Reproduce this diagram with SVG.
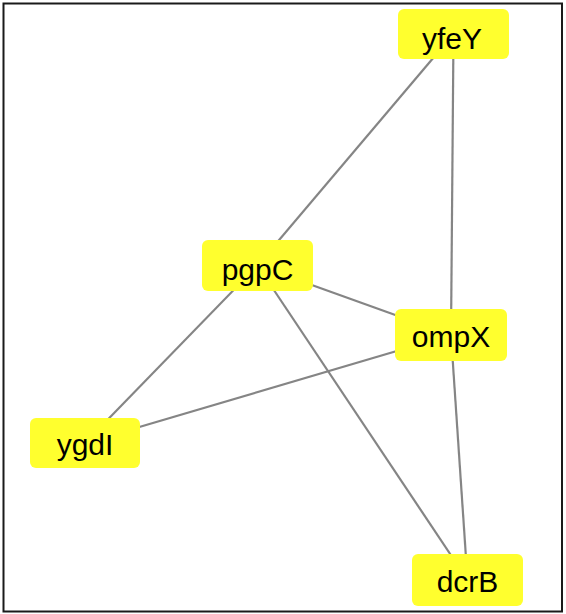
<svg xmlns="http://www.w3.org/2000/svg" width="566" height="614" viewBox="0 0 566 614">
  <style>
    .frame { fill: #ffffff; stroke: #1a1a1a; stroke-width: 2; }
    .edge { stroke: #858585; stroke-width: 2.2; fill: none; }
    .node rect { fill: #ffff2e; stroke: none; }
    .node text { font-family: "Liberation Sans", Arial, Helvetica, sans-serif; font-size: 30px; fill: #000000; text-anchor: middle; }
  </style>
  <rect class="frame" x="3.5" y="3.5" width="558.5" height="608"/>
  <g id="edges">
    <line class="edge" x1="453.5" y1="34" x2="257.5" y2="265.5"/>
    <line class="edge" x1="453.5" y1="34" x2="451" y2="335"/>
    <line class="edge" x1="257.5" y1="265.5" x2="451" y2="335"/>
    <line class="edge" x1="257.5" y1="265.5" x2="85" y2="443"/>
    <line class="edge" x1="257.5" y1="265.5" x2="467.5" y2="580"/>
    <line class="edge" x1="451" y1="335" x2="85" y2="443"/>
    <line class="edge" x1="451" y1="335" x2="467.5" y2="580"/>
  </g>
  <g id="yfeY" class="node">
    <rect x="398" y="9" width="111" height="50" rx="6"/>
    <text x="452" y="49">yfeY</text>
  </g>
  <g id="pgpC" class="node">
    <rect x="202" y="240" width="111" height="51" rx="6"/>
    <text x="257.5" y="280">pgpC</text>
  </g>
  <g id="ompX" class="node">
    <rect x="395" y="309" width="112" height="52" rx="6"/>
    <text x="451" y="347">ompX</text>
  </g>
  <g id="ygdI" class="node">
    <rect x="30" y="418" width="110" height="50" rx="6"/>
    <text x="85" y="455">ygdI</text>
  </g>
  <g id="dcrB" class="node">
    <rect x="412" y="554" width="111" height="52" rx="6"/>
    <text x="467.5" y="592">dcrB</text>
  </g>
</svg>
